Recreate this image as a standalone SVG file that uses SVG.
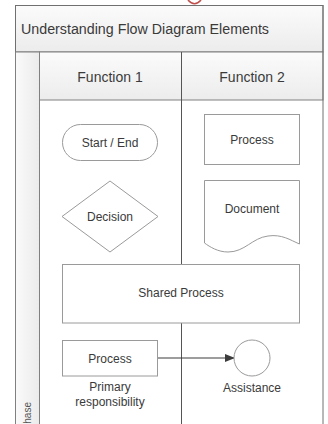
<svg xmlns="http://www.w3.org/2000/svg" width="328" height="424" viewBox="0 0 328 424">
  <defs>
    <linearGradient id="bandFill" x1="0" y1="0" x2="0" y2="1">
      <stop offset="0" stop-color="#fbfbfb"/>
      <stop offset="1" stop-color="#ececec"/>
    </linearGradient>
    <linearGradient id="phaseFill" x1="0" y1="0" x2="1" y2="0">
      <stop offset="0" stop-color="#fafafa"/>
      <stop offset="1" stop-color="#ebebeb"/>
    </linearGradient>
    <marker id="arrowHead" markerWidth="10" markerHeight="8" refX="9" refY="4" orient="auto" markerUnits="userSpaceOnUse">
      <path d="M0,0 L10,4 L0,8 Z" fill="#3c3c3c"/>
    </marker>
  </defs>
  <style>
    text { font-family: "Liberation Sans", Arial, sans-serif; fill: #3a3a3a; }
    .title { font-size: 14px; }
    .lane { font-size: 14px; text-anchor: middle; }
    .lbl { font-size: 12px; text-anchor: middle; }
    .phase { font-size: 10px; text-anchor: end; fill: #555555; }
    .shape { fill: #ffffff; stroke: #9a9a9a; stroke-width: 1; }
    .frame { fill: none; stroke: #707070; stroke-width: 1; }
    .divider { stroke: #555555; stroke-width: 1; }
  </style>

  <rect width="328" height="424" fill="#ffffff"/>

  <!-- heading fragment above the frame -->
  <path d="M188,0 Q194.5,7.5 201,0" fill="none" stroke="#c0504d" stroke-width="1.6"/>

  <!-- pool frame: title band, lane headers and phase column -->
  <g id="pool">
    <rect x="15.5" y="5.5" width="307.5" height="46.5" fill="url(#bandFill)" stroke="#707070"/>
    <text class="title" x="21" y="34" textLength="248" lengthAdjust="spacingAndGlyphs">Understanding Flow Diagram Elements</text>
    <rect x="15.5" y="52" width="24" height="380" fill="url(#phaseFill)" stroke="#808080"/>
    <text class="phase" transform="translate(31,402) rotate(-90)">Phase</text>
    <rect x="39.5" y="52" width="283.5" height="48" fill="url(#bandFill)" stroke="#808080"/>
    <line class="frame" x1="323" y1="5" x2="323" y2="424"/>
  </g>

  <g id="lane-function-1">
    <text class="lane" x="110" y="82">Function 1</text>
  </g>
  <g id="lane-function-2">
    <text class="lane" x="252" y="82">Function 2</text>
  </g>

  <!-- lane separator -->
  <line class="divider" x1="181.5" y1="52" x2="181.5" y2="424"/>

  <g id="connectors">
    <line x1="158" y1="358" x2="234" y2="358" stroke="#3c3c3c" stroke-width="1.2" marker-end="url(#arrowHead)"/>
  </g>

  <g id="start-end">
    <rect class="shape" x="62.5" y="124.5" width="95" height="36" rx="18" ry="18"/>
    <text class="lbl" x="110" y="146.5">Start / End</text>
  </g>

  <g id="process-top">
    <rect class="shape" x="204.5" y="114.5" width="95" height="50"/>
    <text class="lbl" x="252" y="143.5">Process</text>
  </g>

  <g id="decision">
    <polygon class="shape" points="110,181 158,216.5 110,252 62,216.5"/>
    <text class="lbl" x="110" y="220.5">Decision</text>
  </g>

  <g id="document">
    <path class="shape" d="M204.5,180.5 L299.5,180.5 L299.5,244 C290,240 282,234 268,236 C252,238 245,252 228,252 C218,252 210,247 204.5,243 Z"/>
    <text class="lbl" x="252" y="212.5">Document</text>
  </g>

  <g id="shared-process">
    <rect class="shape" x="62.5" y="264.5" width="237" height="58.5"/>
    <text class="lbl" x="181" y="297">Shared Process</text>
  </g>

  <g id="process-primary">
    <rect class="shape" x="62.5" y="340.5" width="95" height="35.5"/>
    <text class="lbl" x="110" y="362.5">Process</text>
    <text class="lbl" x="110" y="391">Primary</text>
    <text class="lbl" x="110" y="406">responsibility</text>
  </g>

  <g id="assistance">
    <circle class="shape" cx="252" cy="358" r="18"/>
    <text class="lbl" x="252" y="392">Assistance</text>
  </g>
</svg>
